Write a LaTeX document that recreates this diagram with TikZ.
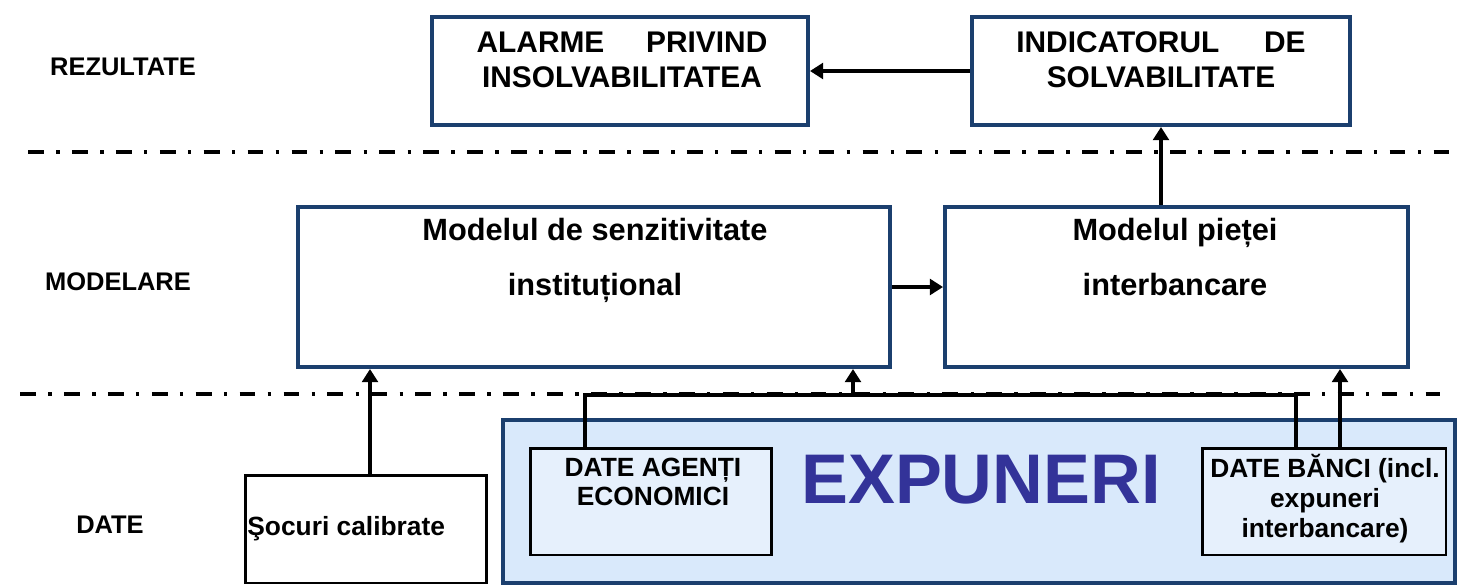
\documentclass[tikz,border=0pt]{standalone}
\usepackage{fontspec}
\setmainfont{Liberation Sans}
\usetikzlibrary{arrows.meta}

\definecolor{boxblue}{HTML}{1B3F6E}
\definecolor{expfill}{HTML}{D9E9FB}
\definecolor{datafill}{HTML}{E6F0FC}
\definecolor{exptext}{HTML}{333399}
\newcommand{\fs}[2]{\fontsize{#1}{#2}\selectfont\bfseries}

\tikzset{
  tier/.style={font=\fs{14.5}{17}, anchor=base, inner sep=0pt},
  modelbox/.style={draw=boxblue, line width=2.3pt, fill=white},
  databox/.style={draw=black, line width=1.7pt, fill=datafill},
  boxtext/.style={align=center, anchor=base, inner sep=0pt},
  sepline/.style={line width=2pt, dash pattern=on 9pt off 7pt on 2pt off 7pt},
  arr/.style={line width=1.8pt, -{Triangle[length=7.5pt,width=9pt]}},
  bus/.style={line width=1.8pt}
}

\begin{document}
\begin{tikzpicture}[x=0.02cm, y=-0.02cm]
    \useasboundingbox (0,0) rectangle (1457,588);

    % separators
    \draw[sepline] (28,152) -- (1457,152);
    \draw[sepline] (20,394) -- (1440,394);

    % tiers
    \node[tier] (rez) at (123,76) {REZULTATE};
    \node[tier] (mod) at (118,290) {MODELARE};
    \node[tier] (dat) at (110,533) {DATE};

    % results
    \node[modelbox, minimum width=7.52cm, minimum height=2.16cm] (alm) at (620,71) {};
    \node[boxtext, font=\fs{17}{20.4}] (almtxt) at (622,88) {ALARME\hspace{1.4em}PRIVIND\\INSOLVABILITATEA};
    \node[modelbox, minimum width=7.56cm, minimum height=2.16cm] (ind) at (1161,71) {};
    \node[boxtext, font=\fs{17}{20.4}] (indtxt) at (1161,88) {INDICATORUL\hspace{1.5em}DE\\SOLVABILITATE};

    % models
    \node[modelbox, minimum width=11.84cm, minimum height=3.2cm] (msi) at (594,287) {};
    \node[boxtext, font=\fs{17.5}{31}] (msitxt) at (595,295) {Modelul de senzitivitate\\instituțional};
    \node[modelbox, minimum width=9.26cm, minimum height=3.2cm] (mpi) at (1176.5,287) {};
    \node[boxtext, font=\fs{17.5}{31}] (mpitxt) at (1175,295) {Modelul pieței\\interbancare};

    % data
    \node[draw=boxblue, fill=expfill, line width=2.3pt, minimum width=19.04cm, minimum height=3.26cm] (exp) at (979,501.5) {};
    \node[boxtext, font=\fs{40}{48}, text=exptext] (exptxt) at (981,503) {EXPUNERI};
    \node[databox, minimum width=4.84cm, minimum height=2.14cm] (dag) at (651,501.5) {};
    \node[boxtext, font=\fs{15}{16}] (dagtxt) at (653,505) {DATE AGENȚI\\ECONOMICI};
    \node[databox, minimum width=4.88cm, minimum height=2.14cm] (dbn) at (1324,501.5) {};
    \node[boxtext, font=\fs{15}{17}] (dbntxt) at (1325,537) {DATE BĂNCI (incl.\\expuneri\\interbancare)};
    \node[databox, fill=white, minimum width=4.84cm, minimum height=2.16cm] (soc) at (366,529) {};
    \node[boxtext, anchor=base west, font=\fs{15}{18}] (soctxt) at (247,535) {Şocuri calibrate};

    % connectors
    \coordinate (busl) at (585,395);
    \coordinate (busm) at (853,395);
    \coordinate (busr) at (1296,395);
    \coordinate (xbk) at (1340,0);
    \coordinate (xsoc) at (370,0);
    \draw[bus] (dag.north -| busl) -- (busl) -- (busr) -- (dbn.north -| busr);
    \draw[arr] (busm) -- (msi.south -| busm);
    \draw[arr] (dbn.north -| xbk) -- (mpi.south -| xbk);
    \draw[arr] (soc.north -| xsoc) -- (msi.south -| xsoc);
    \draw[arr] (msi.east) -- (mpi.west);
    \draw[arr] (mpi.north -| ind.south) -- (ind.south);
    \draw[arr] (ind.west) -- (alm.east);
\end{tikzpicture}
\end{document}
